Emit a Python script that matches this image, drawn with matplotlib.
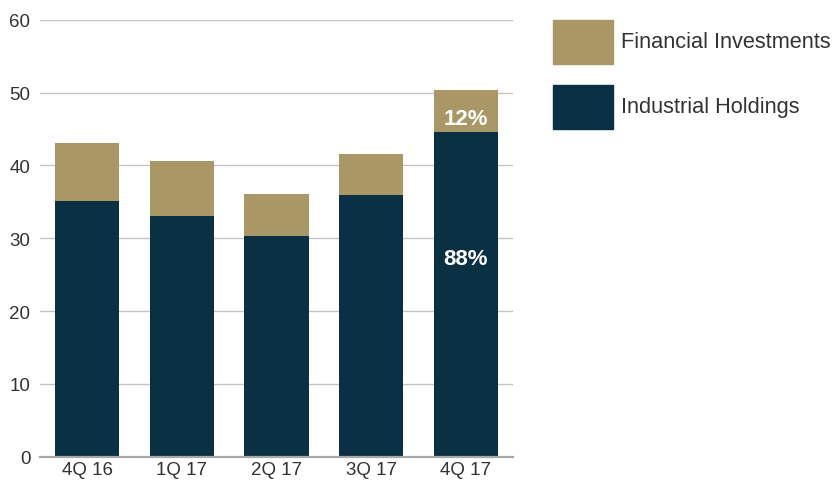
import matplotlib
matplotlib.use("Agg")
import matplotlib.pyplot as plt
from matplotlib.patches import Rectangle

categories = ["4Q 16", "1Q 17", "2Q 17", "3Q 17", "4Q 17"]
industrial = [35.1, 33.05, 30.3, 35.9, 44.6]
financial = [8.0, 7.55, 5.8, 5.65, 5.75]
series_names = ["Financial Investments", "Industrial Holdings"]
yticks = [0, 10, 20, 30, 40, 50, 60]
share_labels = {"4Q 17": ("88%", "12%")}

TAN = "#A99865"
NAVY = "#0A3044"

plt.rcParams['font.family'] = ['Liberation Sans', 'DejaVu Sans']

W, H = 835, 481
fig = plt.figure(figsize=(W / 100, H / 100), dpi=100)
ax = fig.add_axes([40 / W, 23.3 / H, 473 / W, 437 / H])

x = list(range(len(categories)))
bw = 0.677
ax.bar(x, industrial, width=bw, color=NAVY, zorder=3)
ax.bar(x, financial, width=bw, bottom=industrial, color=TAN, zorder=3)

for i, c in enumerate(categories):
    if c in share_labels:
        lo, hi = share_labels[c]
        ax.text(i, industrial[i] * 0.611, lo, color="white", fontsize=16,
                fontweight="bold", ha="center", va="center", zorder=4)
        ax.text(i, industrial[i] + financial[i] * 0.32, hi, color="white",
                fontsize=16, fontweight="bold", ha="center", va="center", zorder=4)

ax.set_xlim(-0.5, len(categories) - 0.5)
ax.set_ylim(0, 60)
ax.set_yticks(yticks)
ax.set_xticks(x)
ax.set_xticklabels(categories)
ax.grid(axis="y", color="#C4C4C4", linewidth=1.0, zorder=0)
for s in ["top", "right", "left"]:
    ax.spines[s].set_visible(False)
ax.spines["bottom"].set_color("#A8A8A8")
ax.spines["bottom"].set_linewidth(1.6)
ax.spines["bottom"].set_zorder(5)
ax.tick_params(axis="both", length=0, labelsize=13.5, colors="#333333")
ax.tick_params(axis="y", pad=7)
ax.tick_params(axis="x", pad=3)

# legend
legend_items = [(series_names[0], TAN, 21), (series_names[1], NAVY, 86)]
for name, col, ytop in legend_items:
    fig.add_artist(Rectangle((553 / W, 1 - (ytop + 44) / H), 60 / W, 44 / H,
                             transform=fig.transFigure, color=col))
    fig.text(621 / W, 1 - (ytop + 22) / H, name, fontsize=15.7, color="#333333",
             ha="left", va="center")

fig.savefig("out.png", dpi=100)
